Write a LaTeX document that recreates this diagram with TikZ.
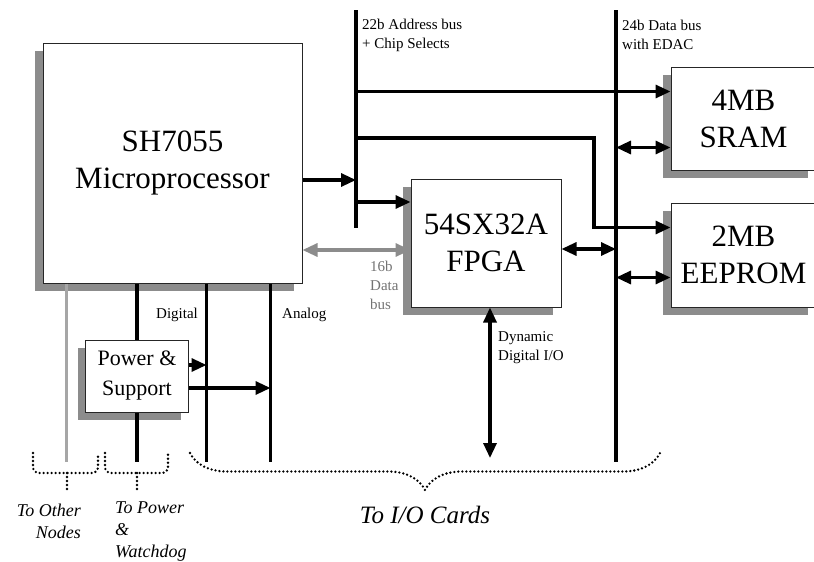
\documentclass[tikz,border=0pt]{standalone}
\usepackage{fontspec}
\setmainfont{Liberation Serif}
\usetikzlibrary{arrows.meta, shadows, decorations.pathreplacing}

\begin{document}
\begin{tikzpicture}[x=1pt, y=-1pt, >={Triangle[length=15pt,width=13pt]},
    block/.style={draw=black!85, line width=1pt, fill=white, align=center, inner sep=0pt,
      drop shadow={shadow xshift=-8pt, shadow yshift=-8pt, opacity=1, fill=black!45},
      font=\fontsize{31}{37}\selectfont},
    bus/.style={line width=3.5pt},
    gline/.style={line width=3pt, draw=black!35},
    arr/.style={->, line width=3.2pt},
    darr/.style={<->, line width=3.2pt},
    lbl/.style={inner sep=0pt, font=\fontsize{15}{19}\selectfont},
    ilbl/.style={inner sep=0pt, font=\itshape\fontsize{18}{22}\selectfont},
    dots/.style={line width=2.6pt, dash pattern=on 0pt off 4pt, line cap=round}]
  \useasboundingbox (0,0) rectangle (814,562);

  \node[block, minimum width=259pt, minimum height=240pt] (mp) at (172.5,163) {SH7055\\Microprocessor};
  \node[block, minimum width=150pt, minimum height=128pt] (fpga) at (486,243) {54SX32A\\FPGA};
  \node[block, minimum width=145pt, minimum height=103pt] (sram) at (743.5,118.5) {4MB\\SRAM};
  \node[block, minimum width=145pt, minimum height=104pt] (eeprom) at (743.5,255) {2MB\\EEPROM};
  \node[block, minimum width=103pt, minimum height=72pt, font=\fontsize{22}{30}\selectfont] (pwr) at (137,376) {Power \&\\Support};

  \coordinate (abus) at (356,10);
  \coordinate (dbus) at (616,10);
  \coordinate (bot) at (0,462);
  \coordinate (bend) at (594,138);
  \coordinate (io) at (490,458);

  % address bus and its lines
  \path ([yshift=-17pt]mp.east) coordinate (m1);
  \draw[arr] (m1) -- (abus |- m1);
  \path ([yshift=41pt]fpga.west) coordinate (f1);
  \draw[arr] (abus |- f1) -- (f1);
  \path ([yshift=-25pt]sram.north west) coordinate (s1);
  \draw[arr] (abus |- s1) -- (s1);
  \path ([yshift=-25pt]eeprom.north west) coordinate (e1);
  \draw[arr] (abus |- bend) -- (bend) |- (e1);
  \draw[bus] (abus) -- ++(0,218);

  % data buses
  \path ([yshift=-7pt]fpga.west) coordinate (f2);
  \draw[darr, draw=black!45] (mp.east |- f2) -- (f2);
  \path ([yshift=-6pt]fpga.east) coordinate (f3);
  \draw[darr] (f3) -- (dbus |- f3);
  \path ([yshift=23pt]sram.south west) coordinate (s2);
  \draw[darr] (dbus |- s2) -- (s2);
  \path ([yshift=30pt]eeprom.south west) coordinate (e2);
  \draw[darr] (dbus |- e2) -- (e2);
  \draw[bus] (dbus) -- (dbus |- bot);
  \draw[darr] (fpga.south -| io) -- (io);

  % lines below the microprocessor
  \path ([xshift=24pt]mp.south west) coordinate (g1);
  \path ([xshift=164pt]mp.south west) coordinate (dg);
  \path ([xshift=228pt]mp.south west) coordinate (an);
  \draw[gline] (g1) -- (g1 |- bot);
  \draw[bus] (mp.south -| pwr.north) -- (pwr.north);
  \draw[bus] (pwr.south) -- (pwr.south |- bot);
  \draw[bus] (dg) -- (dg |- bot);
  \draw[bus] (an) -- (an |- bot);
  \path ([yshift=11pt]pwr.east) coordinate (p1);
  \draw[arr] (p1) -- (dg |- p1);
  \path ([yshift=-12pt]pwr.east) coordinate (p2);
  \draw[arr] (p2) -- (an |- p2);

  % labels
  \node[lbl, anchor=west] (dlbl) at (156,315) {Digital};
  \node[lbl, anchor=west] (albl) at (282,315) {Analog};
  \node[lbl, anchor=west, align=left] (albus) at (362,35) {22b Address bus\\+ Chip Selects};
  \node[lbl, anchor=west, align=left] (dlbus) at (622,35) {24b Data bus\\with EDAC};
  \node[lbl, anchor=west, align=left, text=black!55] (slbl) at (370,285) {16b\\Data\\bus};
  \node[lbl, anchor=west, align=left] (iolbl) at (498,348) {Dynamic\\Digital I/O};

  % braces
  \draw[dots, rounded corners=6pt] (33,453) -- (33,473) -- (98,473) -- (98,453);
  \draw[dots] (67,473) -- (67,490);
  \draw[dots, rounded corners=6pt] (105,453) -- (105,473) -- (168,473) -- (168,453);
  \draw[dots] (137,473) -- (137,490);
  \draw[dots, decorate, decoration={brace, mirror, amplitude=37pt}] (190,453) -- (660,453);

  \node[ilbl, anchor=east, align=right] (tonodes) at (81,521) {To Other\\Nodes};
  \node[ilbl, anchor=west, align=left] (topwr) at (115,532) {To Power\\\&\\Watchdog};
  \node[inner sep=0pt, font=\itshape\fontsize{25}{30}\selectfont] (tocards) at (425,515) {To I/O Cards};
\end{tikzpicture}
\end{document}
